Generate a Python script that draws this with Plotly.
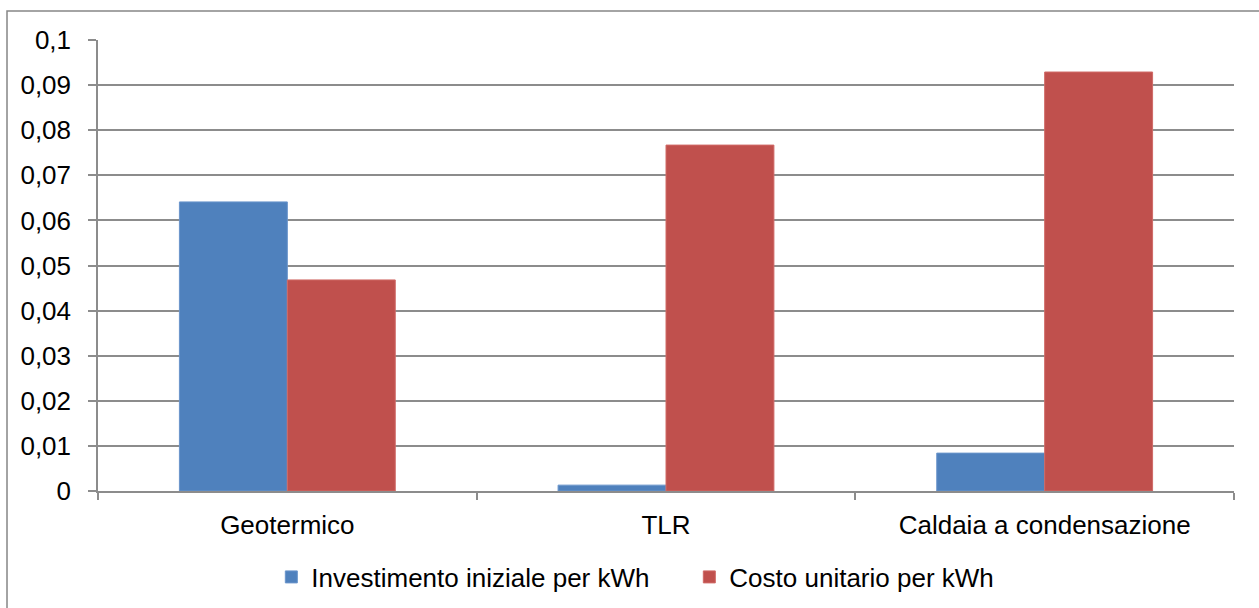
import plotly.graph_objects as go

# dati
categorie = ["Geotermico", "TLR", "Caldaia a condensazione"]
investimento = [0.0641, 0.0013, 0.0084]
costo = [0.0468, 0.0767, 0.0929]
nomi = ["Investimento iniziale per kWh", "Costo unitario per kWh"]

BLU = "#4F81BD"
ROSSO = "#C0504D"
GRIGIO = "#8C8C8C"

fig = go.Figure()
fig.add_trace(go.Bar(x=categorie, y=investimento, name=nomi[0], legendwidth=373,
                     marker=dict(color=BLU, line=dict(color="#6A95CB", width=1))))
fig.add_trace(go.Bar(x=categorie, y=costo, name=nomi[1],
                     marker=dict(color=ROSSO, line=dict(color="#D06A67", width=1))))

fig.update_layout(
    width=1259, height=608,
    margin=dict(l=98, r=25, t=40, b=117),
    paper_bgcolor="white", plot_bgcolor="white",
    separators=",.",
    barmode="group", bargap=0.43, bargroupgap=0,
    font=dict(family="Liberation Sans, Arial, sans-serif", size=26, color="black"),
    showlegend=True,
    legend=dict(orientation="h", x=0.473, xanchor="center",
                yref="container", y=0.051, yanchor="middle",
                font=dict(size=26), itemwidth=30, tracegroupgap=0),
    # cornice esterna (solo bordo superiore e sinistro visibili)
    shapes=[dict(type="rect", xref="paper", yref="paper",
                 x0=-0.0801, x1=1.3, y0=-0.6, y1=1.0643,
                 line=dict(color="#868686", width=1.5), layer="below")],
)
fig.update_yaxes(range=[0, 0.1], dtick=0.01, tick0=0, automargin=False,
                 showgrid=True, gridcolor=GRIGIO, gridwidth=1.5,
                 showline=True, linecolor=GRIGIO, linewidth=1.5,
                 ticks="outside", ticklen=8, tickcolor=GRIGIO, tickwidth=1.5,
                 ticklabelstandoff=12, zeroline=False)
fig.update_xaxes(showline=True, linecolor=GRIGIO, linewidth=1.5, automargin=False,
                 ticks="outside", ticklen=7, tickcolor=GRIGIO, tickwidth=1.5,
                 tickson="boundaries", showgrid=False, ticklabelstandoff=10)

# niente margine della pagina, cosi' la figura riempie la finestra
fig.write_html("out.html", config={"displayModeBar": False},
               post_script="document.body.style.margin = '0';")
